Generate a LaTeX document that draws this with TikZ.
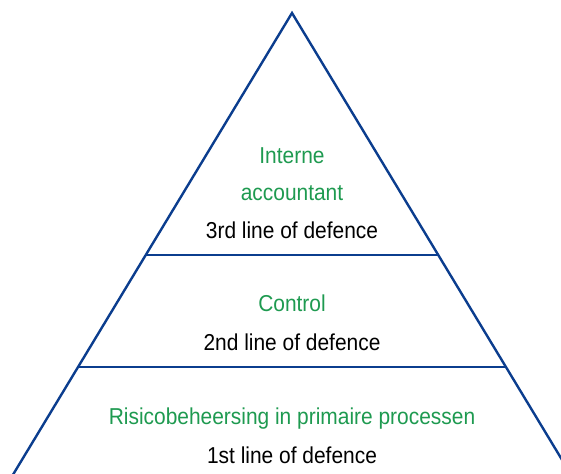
\documentclass[tikz,border=0pt]{standalone}
\usepackage{fontspec}
\setmainfont{Liberation Sans}[FakeStretch=0.91]
\usepackage{tikz}
\usetikzlibrary{calc}
\definecolor{lineblue}{HTML}{0B3D8E}
\definecolor{labelgreen}{HTML}{1E9A50}

\begin{document}
\begin{tikzpicture}[x=1pt, y=-1pt, every node/.style={font=\fontsize{23}{27}\selectfont, anchor=base, inner sep=0pt}]
  \useasboundingbox (0,0) rectangle (561,473);
  \clip (0,0) rectangle (561,473);
  \tikzset{edge/.style={draw=lineblue, line width=2.4pt}, role/.style={text=labelgreen}, level/.style={text=black}}

  \coordinate (apex) at (292,13);
  \coordinate (left) at (14,473);
  \coordinate (right) at (570,473);
  \coordinate (l3) at ($(apex)!0.526!(left)$);
  \coordinate (r3) at ($(apex)!0.526!(right)$);
  \coordinate (l2) at ($(apex)!0.7696!(left)$);
  \coordinate (r2) at ($(apex)!0.7696!(right)$);

  \draw[edge, line join=miter] ($(apex)!1.1!(left)$) -- (apex) -- ($(apex)!1.1!(right)$);
  \draw[edge] (l3) -- (r3);
  \draw[edge] (l2) -- (r2);

  \node[role] (ia1) at (292,163) {Interne};
  \node[role] (ia2) at (292,200) {accountant};
  \node[level] (third) at (292,238) {3rd line of defence};
  \node[role] (ctrl) at (292,311.5) {Control};
  \node[level] (second) at (292,350) {2nd line of defence};
  \node[role] (risk) at (292,424) {Risicobeheersing in primaire processen};
  \node[level] (first) at (292,463) {1st line of defence};
\end{tikzpicture}
\end{document}
